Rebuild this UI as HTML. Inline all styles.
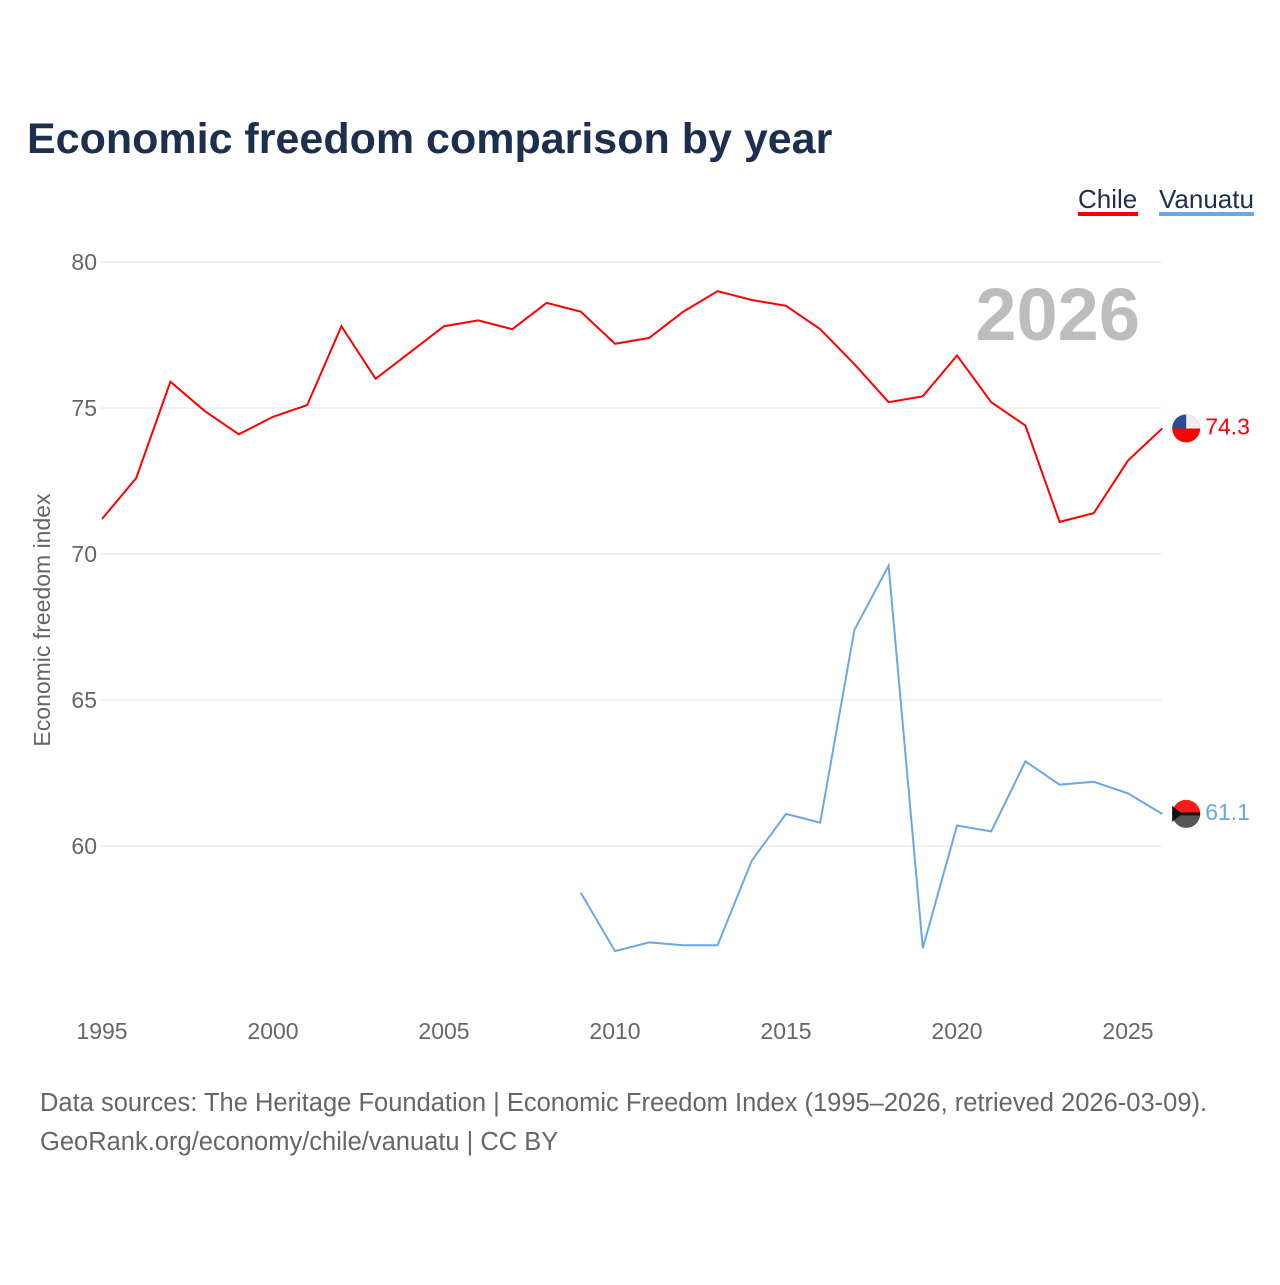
<!DOCTYPE html>
<html><head><meta charset="utf-8"><style>
body{margin:0;background:#fff;width:1280px;height:1280px;overflow:hidden;font-family:"Liberation Sans",sans-serif}
</style></head><body>
<svg id="chart" width="1280" height="1280" xmlns="http://www.w3.org/2000/svg">
<text x="27" y="153" font-size="43" font-weight="bold" fill="#1c2f4f">Economic freedom comparison by year</text>
<g><text x="1078" y="208" font-size="26" fill="#1c2f4f">Chile</text><rect x="1078" y="212" width="60" height="4" fill="#ff0000"/></g>
<g><text x="1159" y="208" font-size="26" fill="#1c2f4f">Vanuatu</text><rect x="1159" y="212" width="95" height="4" fill="#6aa7e6"/></g>
<text x="1140" y="340" font-size="74" font-weight="bold" fill="#bdbdbd" text-anchor="end">2026</text>
<text transform="translate(50,620) rotate(-90)" font-size="23" fill="#666" text-anchor="middle">Economic freedom index</text>
<g id="grid"></g><g id="lines"></g>
<text x="40" y="1111" font-size="25.5" fill="#666">Data sources: The Heritage Foundation | Economic Freedom Index (1995–2026, retrieved 2026-03-09).</text>
<text x="40" y="1150" font-size="25.5" fill="#666">GeoRank.org/economy/chile/vanuatu | CC BY</text>
</svg>
<script>
const chileYears=[1995,1996,1997,1998,1999,2000,2001,2002,2003,2004,2005,2006,2007,2008,2009,2010,2011,2012,2013,2014,2015,2016,2017,2018,2019,2020,2021,2022,2023,2024,2025,2026];
const chileValues=[71.2,72.6,75.9,74.9,74.1,74.7,75.1,77.8,76.0,76.9,77.8,78.0,77.7,78.6,78.3,77.2,77.4,78.3,79.0,78.7,78.5,77.7,76.5,75.2,75.4,76.8,75.2,74.4,71.1,71.4,73.2,74.3];
const vanuatuYears=[2009,2010,2011,2012,2013,2014,2015,2016,2017,2018,2019,2020,2021,2022,2023,2024,2025,2026];
const vanuatuValues=[58.4,56.4,56.7,56.6,56.6,59.5,61.1,60.8,67.4,69.6,56.5,60.7,60.5,62.9,62.1,62.2,61.8,61.1];
const yTicks=[60,65,70,75,80];
const xTicks=[1995,2000,2005,2010,2015,2020,2025];
const NS="http://www.w3.org/2000/svg";
const xS=y=>102+(y-1995)*(1128-102)/30;
const yS=v=>262+(80-v)*29.2;
const grid=document.getElementById('grid'),lines=document.getElementById('lines');
function mk(t,a,p){const e=document.createElementNS(NS,t);for(const k in a)e.setAttribute(k,a[k]);p.appendChild(e);return e;}
yTicks.forEach(v=>{
 const l=mk('line',{x1:100,x2:1162,y1:yS(v),y2:yS(v),stroke:'#e6e6e6','stroke-width':1},grid);
 
 
 const t=mk('text',{x:97,y:yS(v)+8,'font-size':23,fill:'#666','text-anchor':'end'},grid);t.textContent=v;
 
 
});
xTicks.forEach(v=>{
 const t=mk('text',{x:xS(v),y:1039,'font-size':23,fill:'#666','text-anchor':'middle'},grid);t.textContent=v;
 
 
});
function series(xs,vs,color,name){
 const p=mk('polyline',{points:xs.map((y,i)=>xS(y)+','+yS(vs[i])).join(' '),fill:'none',stroke:color,'stroke-width':2},lines);
 
 
 const lx=xS(xs[xs.length-1]),ly=yS(vs[vs.length-1]);
 const g=mk('g',{},lines);
 
 
 if(name==='chile'){
  mk('circle',{cx:lx+24,cy:ly,r:14,fill:'#ff0000'},g);
  mk('path',{d:`M${lx+10},${ly} A14,14 0 0 1 ${lx+38},${ly} Z`,fill:'#eee'},g);
  mk('path',{d:`M${lx+10},${ly} A14,14 0 0 1 ${lx+24},${ly-14} L${lx+24},${ly} Z`,fill:'#2a4d8f'},g);
 }else{
  mk('circle',{cx:lx+24,cy:ly,r:14,fill:'#555'},g);
  mk('path',{d:`M${lx+10},${ly} A14,14 0 0 1 ${lx+38},${ly} Z`,fill:'#ff1a1a'},g);
  mk('line',{x1:lx+10,x2:lx+38,y1:ly,y2:ly,stroke:'#111','stroke-width':3},g);
  mk('path',{d:`M${lx+10},${ly-8} L${lx+20},${ly} L${lx+10},${ly+8}Z`,fill:'#111'},g);
 }
 const t=mk('text',{x:lx+43,y:ly+6,'font-size':23,fill:color},lines);t.textContent=vs[vs.length-1].toFixed(1);
 
 
}
series(chileYears,chileValues,'#ff0000','chile');
series(vanuatuYears,vanuatuValues,'#6aa7e6','vanuatu');
</script>
</body></html>
